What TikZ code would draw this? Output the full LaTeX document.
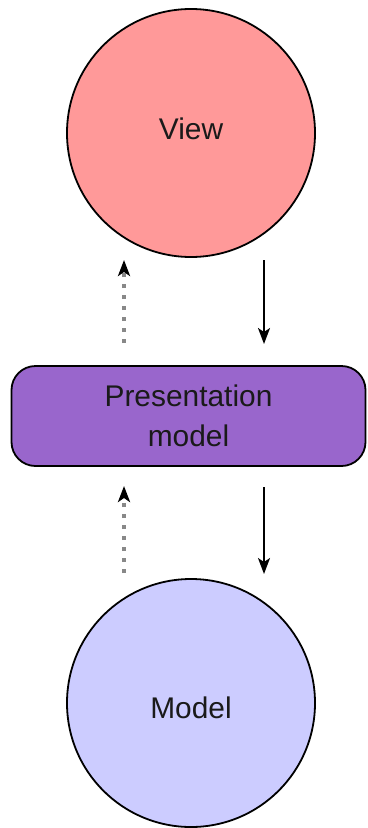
\documentclass[tikz,border=0pt]{standalone}
\usepackage{fontspec}
\setmainfont{Liberation Sans}
\usetikzlibrary{arrows.meta}
\definecolor{viewfill}{HTML}{FF9999}
\definecolor{pmfill}{HTML}{9966CC}
\definecolor{modelfill}{HTML}{CCCCFF}
\definecolor{txt}{HTML}{1A1A1A}
\definecolor{dashgray}{HTML}{888888}
\begin{document}
\begin{tikzpicture}[x=1bp,y=-1bp,
  circ/.style={circle,draw=black,line width=1.8bp,minimum size=248bp,inner sep=0pt},
  circtext/.style={font=\fontsize{30}{36}\selectfont,text=txt,inner sep=0pt},
  pmbox/.style={rectangle,rounded corners=24bp,draw=black,line width=1.8bp,fill=pmfill,
    minimum width=354bp,minimum height=100bp,inner sep=0pt,align=center,
    font=\fontsize{30}{40}\selectfont,text=txt},
  solidarr/.style={line width=2bp,draw=black,-{Stealth[length=16bp,width=12bp,inset=4bp]}},
  dasharr/.style={line width=3.5bp,draw=dashgray,dash pattern=on 4bp off 7bp,
    -{Stealth[length=16bp,width=12bp,inset=4bp,black]}}]
\useasboundingbox (0,0) rectangle (367,828);
\node[circ,fill=viewfill,label={[circtext,yshift=4bp]center:View}] (view) at (191,133) {};
\node[pmbox] (pm) at (188.5,416) {Presentation\\model};
\node[circ,fill=modelfill,label={[circtext,yshift=-5bp]center:Model}] (model) at (191,703) {};
\coordinate (a1s) at (124,343);
\coordinate (a1e) at (124,260);
\coordinate (a2s) at (264,260);
\coordinate (a2e) at (264,344);
\coordinate (a3s) at (124,573);
\coordinate (a3e) at (124,486);
\coordinate (a4s) at (264,487);
\coordinate (a4e) at (264,574);
\draw[dasharr] (a1s) -- (a1e);
\draw[solidarr] (a2s) -- (a2e);
\draw[dasharr] (a3s) -- (a3e);
\draw[solidarr] (a4s) -- (a4e);
\end{tikzpicture}
\end{document}
